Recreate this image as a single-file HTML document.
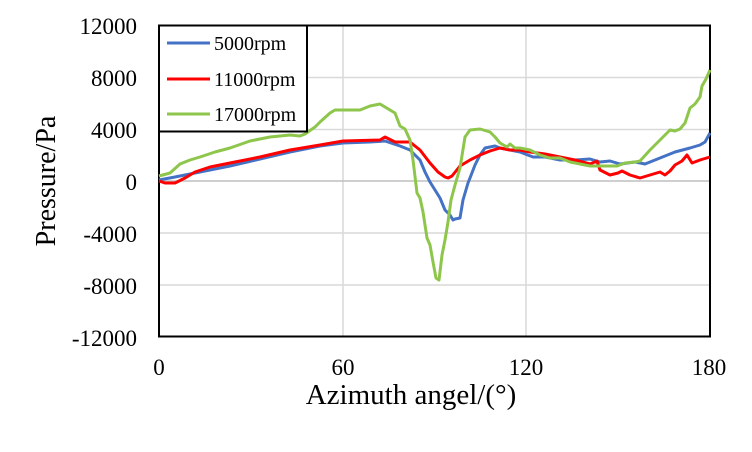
<!DOCTYPE html>
<html><head><meta charset="utf-8"><style>
body{margin:0;background:#fff}
svg{display:block}
text{font-family:"Liberation Serif",serif;fill:#000}
</style></head><body>
<svg width="752" height="452" viewBox="0 0 752 452" xmlns="http://www.w3.org/2000/svg">
<rect width="752" height="452" fill="#fff"/>
<g stroke="#d9d9d9" stroke-width="1.5">
<line x1="159" y1="77.5" x2="710" y2="77.5"/>
<line x1="159" y1="129.5" x2="710" y2="129.5"/>
<line x1="159" y1="233" x2="710" y2="233"/>
<line x1="159" y1="285" x2="710" y2="285"/>
<line x1="343" y1="25" x2="343" y2="336"/>
<line x1="526" y1="25" x2="526" y2="336"/>
</g>
<line x1="159" y1="181" x2="710" y2="181" stroke="#bfbfbf" stroke-width="1.5"/>
<rect x="159" y="25.5" width="551" height="311" fill="none" stroke="#000" stroke-width="2"/>
<g fill="none" stroke-width="3" stroke-linejoin="round">
<polyline stroke="#4472c4" points="159,180 175,177 200,172 230,166 260,159 290,152 320,146 343,143 370,142 385,141 400,146 410,150 420,160 425,172 430,182 435,190 440,198 445,210 450,215 453,220 455,219 460,218 463,200 468,183 470,178 475,165 480,155 485,148 495,146 500,148 510,150 520,152 533,157 545,157 560,160 575,160 590,159 600,162 610,161 620,164 635,162 645,164 655,160 665,156 675,152 690,148 700,145 705,142 710,133"/>
<polyline stroke="#ff0000" points="159,181 165,183 175,183 185,178 195,172 210,167 230,163 260,157 290,150 320,145 343,141 380,140 385,137 395,142 410,142 420,150 430,163 438,172 445,177 448,178 452,176 460,166 470,160 480,155 490,151 500,148 510,150 520,150 530,152 545,154 560,157 575,160 590,164 597,161 600,170 610,175 618,173 622,171 630,175 640,178 650,175 660,172 665,175 670,171 675,165 682,161 687,155 692,163 700,160 710,157"/>
<polyline stroke="#8dc64b" points="159,176 170,173 180,164 190,160 200,157 215,152 230,148 250,141 270,137 290,135 300,136 305,134 315,127 320,122 330,113 335,110 360,110 370,106 380,104 385,107 395,113 400,126 405,129 410,140 413,160 417,193 420,198 423,212 427,238 430,245 433,262 436,278 439,280 442,255 445,240 448,222 451,200 455,185 460,168 465,137 470,130 480,129 490,132 495,137 500,143 507,147 510,144 515,148 520,148 530,150 540,155 550,158 560,158 570,162 580,164 590,166 600,166 610,166 617,166 625,163 635,162 640,161 650,150 660,140 665,135 670,130 675,131 680,129 685,123 690,108 695,104 700,97 702,86 706,79 710,70"/>
</g>
<rect x="159" y="25.5" width="148" height="106" fill="#fff" stroke="#000" stroke-width="2"/>
<g stroke-width="3">
<line x1="167" y1="43" x2="210" y2="43" stroke="#4472c4"/>
<line x1="167" y1="79" x2="210" y2="79" stroke="#ff0000"/>
<line x1="167" y1="114" x2="210" y2="114" stroke="#8dc64b"/>
</g>
<g font-size="20">
<text x="214" y="50">5000rpm</text>
<text x="214" y="86">11000rpm</text>
<text x="214" y="121">17000rpm</text>
</g>
<g font-size="23" text-anchor="end">
<text x="137" y="34">12000</text>
<text x="137" y="86">8000</text>
<text x="137" y="138">4000</text>
<text x="137" y="190">0</text>
<text x="137" y="242">-4000</text>
<text x="137" y="294">-8000</text>
<text x="137" y="346">-12000</text>
</g>
<g font-size="23" text-anchor="middle">
<text x="159" y="375">0</text>
<text x="343" y="375">60</text>
<text x="526" y="375">120</text>
<text x="709" y="375">180</text>
</g>
<text x="411" y="404" font-size="29" text-anchor="middle">Azimuth angel/(°)</text>
<text transform="translate(55,181) rotate(-90)" font-size="28" text-anchor="middle">Pressure/Pa</text>
</svg>
</body></html>
